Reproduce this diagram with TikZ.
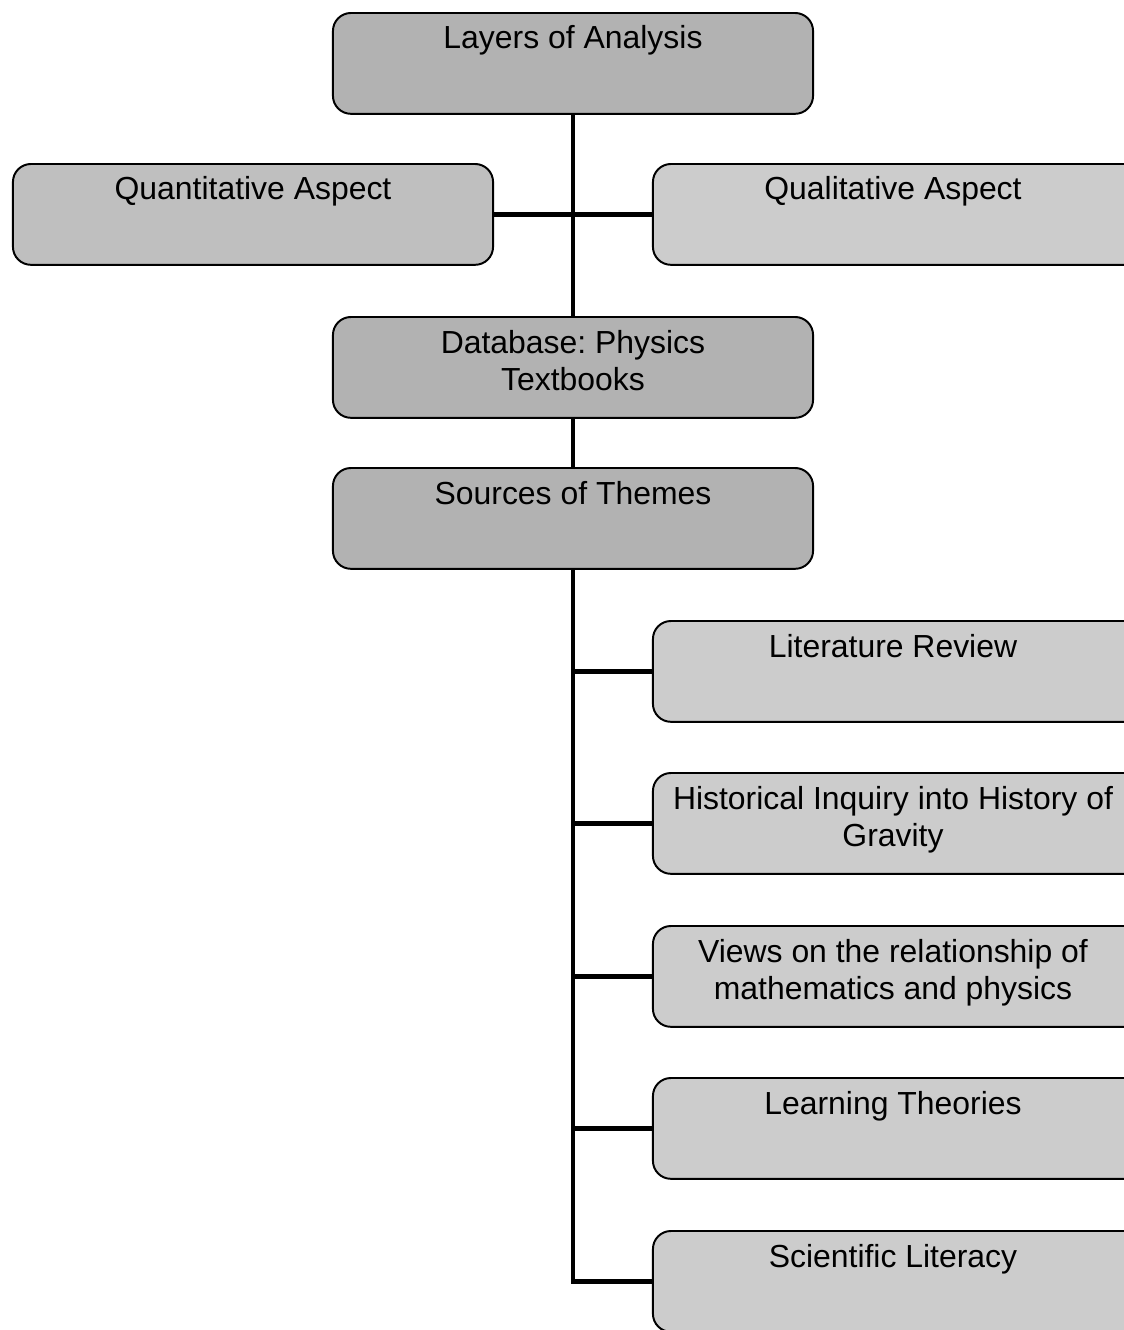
\documentclass[tikz,border=0pt]{standalone}
\usepackage{fontspec}
\setmainfont{Liberation Sans}
\usepackage{tikz}
\usetikzlibrary{positioning}
\frenchspacing
\tikzset{box/.style = {draw, line width = 1.4pt, rounded corners = 0.45cm,
                       anchor = north, inner sep = 0, fill = black!30}}
\tikzset{sidebox/.style = {box, fill = black!20}}
\tikzset{link/.style = {line width = 3.5pt}}
\newcommand{\boxtxt}[1]{\parbox[t][2.52cm][t]{12cm}{\centering
    \fontsize{22.7}{26.5}\selectfont\rule{0pt}{0.9cm}#1}}
% right column runs off the page, so its boxes are wider
\newcommand{\sidetxt}[1]{\parbox[t][2.52cm][t]{13cm}{\centering
    \rightskip=1cm plus 1fil
    \fontsize{22.7}{26.5}\selectfont\rule{0pt}{0.9cm}#1}}

\begin{document}
\begin{tikzpicture}[x = 0.025cm, y = -0.025cm]
    \useasboundingbox (0, 0) rectangle (1124, 1330);
    \clip (0, 0) rectangle (1124, 1330);

    \node [box] (layers) at (573, 12) {\boxtxt{Layers of Analysis}};
    \node [box, fill = black!25] (quant) at (253, 163) {\boxtxt{Quantitative Aspect}};
    \node [sidebox] (qual) at (913, 163) {\sidetxt{Qualitative Aspect}};
    \node [box] (db) at (573, 316) {\boxtxt{Database: Physics\\Textbooks}};
    \node [box] (src) at (573, 467) {\boxtxt{Sources of Themes}};

    \node [sidebox] (lit) at (913, 620) {\sidetxt{Literature Review}};
    \node [sidebox] (hist) at (913, 772) {\sidetxt{Historical Inquiry into History of\\Gravity}};
    \node [sidebox] (views) at (913, 925) {\sidetxt{Views on the relationship of\\mathematics and physics}};
    \node [sidebox] (learn) at (913, 1077) {\sidetxt{Learning Theories}};
    \node [sidebox] (sci) at (913, 1230) {\sidetxt{Scientific Literacy}};

    \draw [link] (layers.south) -- (db.north);
    \draw [link] (quant.east) -- (qual.west);
    \draw [link] (db.south) -- (src.north);

    \draw [link] (src.south) |- (sci.west);
    \foreach \b in {lit, hist, views, learn}
        \draw [link] (src.south |- \b.west) -- (\b.west);
\end{tikzpicture}
\end{document}
